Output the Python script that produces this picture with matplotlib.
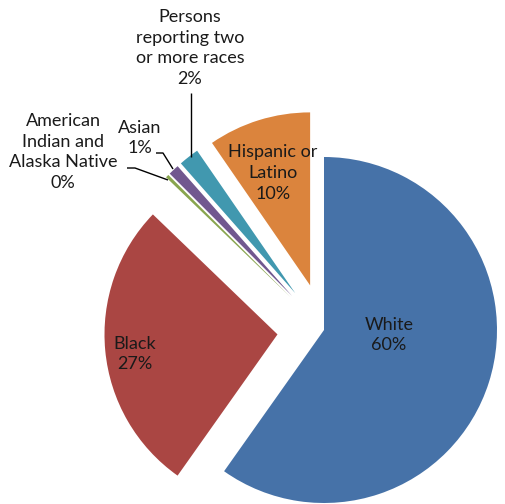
import matplotlib
matplotlib.use("Agg")
import matplotlib.pyplot as plt

# Population share by race / ethnicity (percent)
categories = ["White", "Black", "American\nIndian and\nAlaska Native", "Asian",
              "Persons\nreporting two\nor more races", "Hispanic or\nLatino"]
values = [59.8, 27.4, 0.3, 1.0, 1.9, 9.6]
colors = ["#4672A8", "#AA4643", "#89A54E", "#71588F", "#4198AF", "#DB843D"]
explode = [0.0, 0.27, 0.27, 0.27, 0.27, 0.27]

W, H = 506, 504
R_PX = 173.0           # pie radius in pixels
CX, CY = 324.0, 330.0  # pie centre in pixels (from top-left)

fig = plt.figure(figsize=(W / 100, H / 100), dpi=100)
ax = fig.add_axes([0, 0, 1, 1])

ax.pie(values, colors=colors, explode=explode, startangle=90,
       counterclock=False, radius=1.0,
       wedgeprops=dict(linewidth=0, antialiased=True))

ax.set_xlim(-CX / R_PX, (W - CX) / R_PX)
ax.set_ylim(-(H - CY) / R_PX, CY / R_PX)
ax.set_aspect("equal")
ax.axis("off")


def px(x, y):
    """Pixel position (from top-left) -> data coordinates."""
    return (x - CX) / R_PX, (CY - y) / R_PX


font = dict(family=["Lato", "DejaVu Sans"], fontsize=13, color="#1a1a1a",
            ha="center", va="center", linespacing=1.38)

labels = [f"{c}\n{v:.0f}%" for c, v in zip(categories, values)]
label_pos = [(389, 335), (135, 354), (63, 152), (140, 138), (190, 48), (273, 173)]
for text, (x, y) in zip(labels, label_pos):
    ax.text(*px(x, y), text, **font)

# Leader lines for the small slices
leaders = [
    [(191, 93), (191, 157)],
    [(156, 153), (163, 153), (173, 169)],
    [(127, 168), (135, 168), (168, 180)],
]
for pts in leaders:
    xs, ys = zip(*[px(x, y) for x, y in pts])
    ax.plot(xs, ys, color="black", linewidth=1.0, solid_capstyle="butt")

fig.savefig("out.png", dpi=100)
